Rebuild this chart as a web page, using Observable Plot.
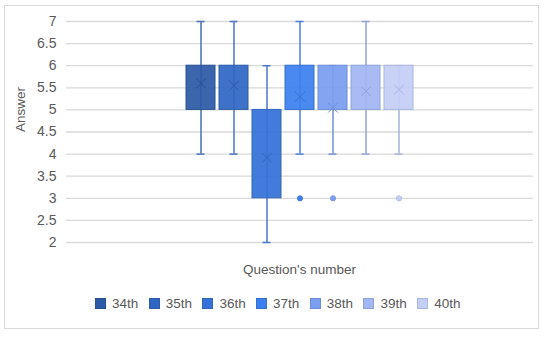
<!DOCTYPE html>
<html>
<head>
<meta charset="utf-8">
<script src="https://cdn.jsdelivr.net/npm/d3@7"></script>
<script src="https://cdn.jsdelivr.net/npm/@observablehq/plot@0.6"></script>
<style>
  html, body { margin: 0; padding: 0; background: #fff; }
  #wrap { position: relative; width: 550px; height: 339px; font-family: "Liberation Sans", Arial, sans-serif; color: #595959; }
  #frame { position: absolute; left: 4px; top: 5px; width: 535px; height: 324px; border: 1px solid #d9d9d9; box-sizing: border-box; }
  #chart { position: absolute; left: 0; top: 0; }
  #xlabel { position: absolute; left: 66px; width: 467px; top: 262px; text-align: center; font-size: 13.5px; }
  #legend { position: absolute; left: 95px; top: 296px; display: flex; font-size: 13.5px; }
  .item { width: 53.7px; display: flex; align-items: center; white-space: nowrap; }
  .sw { width: 11px; height: 11px; box-sizing: border-box; margin-right: 6px; border: 1px solid; }
</style>
</head>
<body>
<div id="wrap">
  <div id="frame"></div>
  <div id="chart"></div>
  <div id="xlabel">Question's number</div>
  <div id="legend"></div>
</div>
<script>
const series = ["34th", "35th", "36th", "37th", "38th", "39th", "40th"];
const mins  = [4, 4, 2, 4, 4, 4, 4];
const q1s   = [5, 5, 3, 5, 5, 5, 5];
const q3s   = [6, 6, 5, 6, 6, 6, 6];
const maxs  = [7, 7, 6, 7, 6, 7, 6];
const means = [5.6, 5.55, 3.92, 5.3, 5.05, 5.42, 5.46];
const outlierSeries = ["37th", "38th", "40th"];
const outlierValues = [3, 3, 3];
const yTicks = [2, 2.5, 3, 3.5, 4, 4.5, 5, 5.5, 6, 6.5, 7];

const fills   = ["#2c5aa8", "#2f66c4", "#3571d8", "#3b80ef", "#7a9ef0", "#a2b6f2", "#c4cff6"];
const borders = ["#28508f", "#2d5ca8", "#3266bb", "#3670cf", "#6d8dd8", "#8ea3dc", "#a8b6e2"];
const whisk   = ["#4a70b6", "#4a72bf", "#4a78ca", "#4a7fd7", "#7390d6", "#8ea1d8", "#a4b2de"];

const data = series.map((s, i) => ({s, i, min: mins[i], q1: q1s[i], q3: q3s[i], max: maxs[i], mean: means[i]}));
const outliers = outlierSeries.map((s, k) => ({s, i: series.indexOf(s), v: outlierValues[k]}));

const chart = Plot.plot({
  width: 550, height: 250,
  marginLeft: 66, marginRight: 17, marginTop: 21, marginBottom: 8,
  style: {fontFamily: "Liberation Sans, Arial, sans-serif", background: "transparent"},
  x: {domain: series, paddingInner: 0.11, paddingOuter: 3.48, axis: null},
  y: {domain: [2, 7], axis: null},
  marks: [
    Plot.gridY(yTicks, {stroke: "#d9d9d9", strokeOpacity: 1, strokeWidth: 1.3}),
    Plot.axisY(yTicks, {tickSize: 0, tickPadding: 10, fontSize: 14, fill: "#595959", label: null, tickFormat: d => String(d)}),
    Plot.text(["Answer"], {frameAnchor: "left", rotate: -90, dx: -46, fontSize: 13.5, fill: "#595959"}),
    Plot.ruleX(data, {x: "s", y1: "min", y2: "max", stroke: d => whisk[d.i], strokeWidth: 1.5}),
    Plot.tickY(data, {x: "s", y: "min", inset: 10.5, stroke: d => whisk[d.i], strokeWidth: 1.5}),
    Plot.tickY(data, {x: "s", y: "max", inset: 10.5, stroke: d => whisk[d.i], strokeWidth: 1.5}),
    Plot.barY(data, {x: "s", y1: "q1", y2: "q3", fill: d => fills[d.i], fillOpacity: 0.93, stroke: d => borders[d.i], strokeWidth: 1}),
    Plot.dot(data, {x: "s", y: "mean", symbol: "times", r: 4.5, stroke: d => borders[d.i], strokeWidth: 1}),
    Plot.dot(outliers, {x: "s", y: "v", r: 2.6, fill: d => fills[d.i], stroke: d => borders[d.i], strokeWidth: 0.8})
  ]
});
document.getElementById("chart").appendChild(chart);

const legend = document.getElementById("legend");
series.forEach((s, i) => {
  const item = document.createElement("div");
  item.className = "item";
  const sw = document.createElement("span");
  sw.className = "sw";
  sw.style.background = fills[i];
  sw.style.borderColor = borders[i];
  item.appendChild(sw);
  item.appendChild(document.createTextNode(s));
  legend.appendChild(item);
});
</script>
</body>
</html>
